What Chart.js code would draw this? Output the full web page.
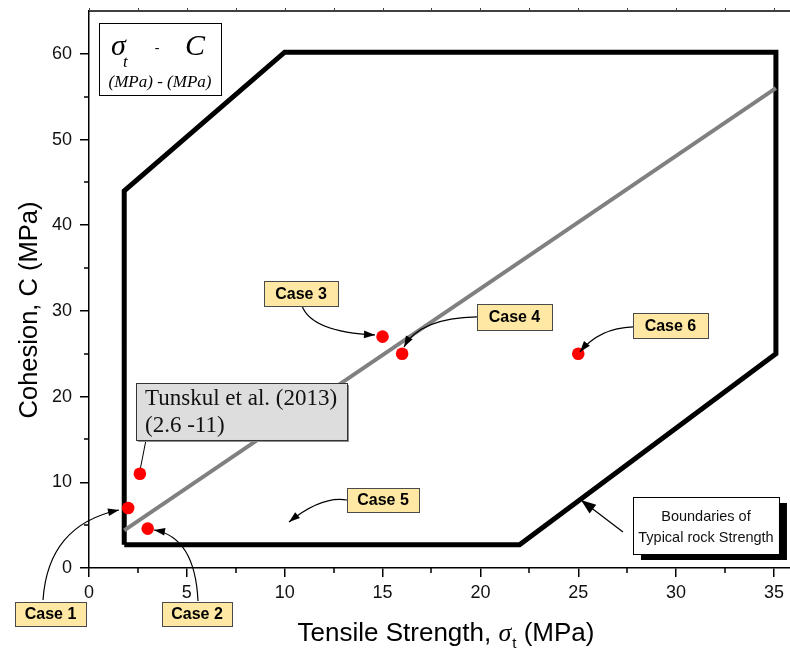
<!DOCTYPE html>
<html>
<head>
<meta charset="utf-8">
<script src="https://cdn.jsdelivr.net/npm/chart.js@4.4.1/dist/chart.umd.min.js"></script>
<style>
  html, body { margin: 0; padding: 0; background: #fff; overflow: hidden; }
  #wrap { width: 790px; height: 650px; position: relative; }
</style>
</head>
<body>
<div id="wrap"><canvas id="c" width="790" height="650"></canvas></div>
<script>
// ---- values ----
const xTicks = [0, 5, 10, 15, 20, 25, 30, 35];
const yTicks = [0, 10, 20, 30, 40, 50, 60];
const xMinor = [2.5, 7.5, 12.5, 17.5, 22.5, 27.5, 32.5];
const yMinor = [5, 15, 25, 35, 45, 55];

// boundary of typical rock strength (tensile strength, cohesion)
const boundaryX = [1.8, 1.8, 10, 35.1, 35.1, 22, 1.8];
const boundaryY = [2.7, 44, 60.2, 60.2, 25, 2.7, 2.7];

// fitted trend line
const trendX = [1.8, 35.1];
const trendY = [4.4, 56];

// measured cases (Case 1, Tunskul et al., Case 2, Case 3, Case 4, Case 6)
const pointX = [2, 2.6, 3, 15, 16, 25];
const pointY = [7, 11, 4.6, 27, 25, 25];

// ---- annotation layout (data units) ----
const caseBoxes = [
  { text: 'Case 1', x: -1.967, y: -5.37, w: 71, h: 24 },
  { text: 'Case 2', x: 5.518,  y: -5.37, w: 70, h: 24 },
  { text: 'Case 3', x: 10.832, y: 32.04, w: 74, h: 25 },
  { text: 'Case 4', x: 21.741, y: 29.30, w: 75, h: 26 },
  { text: 'Case 5', x: 15.022, y: 7.94,  w: 72, h: 24 },
  { text: 'Case 6', x: 29.712, y: 28.31, w: 75, h: 25 }
];
const caseArrows = [
  { from: [-2.350, -3.735], ctrl: [-2.095, 5.019], to: [1.533, 6.770] },
  { from: [5.570, -3.852],  ctrl: [5.416, 3.619],  to: [3.321, 4.436] },
  { from: [10.883, 30.582], ctrl: [11.394, 27.547], to: [14.613, 27.197] },
  { from: [19.825, 29.298], ctrl: [16.913, 29.18], to: [16.095, 25.797] },
  { from: [13.183, 7.937],  ctrl: [11.905, 8.463], to: [10.219, 5.369] },
  { from: [27.796, 28.131], ctrl: [26.083, 28.0],  to: [25.088, 25.213] }
];

const sansFont = '"Liberation Sans", Arial, Helvetica, sans-serif';
const serifFont = '"Liberation Serif", "Times New Roman", Times, serif';

function drawArrowHead(ctx, fx, fy, tx, ty, len, half) {
  const a = Math.atan2(ty - fy, tx - fx);
  ctx.beginPath();
  ctx.moveTo(tx, ty);
  ctx.lineTo(tx - len * Math.cos(a) + half * Math.sin(a), ty - len * Math.sin(a) - half * Math.cos(a));
  ctx.lineTo(tx - len * Math.cos(a) - half * Math.sin(a), ty - len * Math.sin(a) + half * Math.cos(a));
  ctx.closePath();
  ctx.fill();
}

const decor = {
  id: 'decor',
  afterDraw(chart) {
    const ctx = chart.ctx;
    const xs = chart.scales.x, ys = chart.scales.y;
    const X = v => xs.getPixelForValue(v);
    const Y = v => ys.getPixelForValue(v);
    const a = chart.chartArea;
    ctx.save();

    // minor ticks
    ctx.strokeStyle = '#000';
    ctx.lineWidth = 1.5;
    ctx.beginPath();
    xMinor.forEach(v => { const p = Math.round(X(v)); ctx.moveTo(p, a.bottom); ctx.lineTo(p, a.bottom + 5); });
    yMinor.forEach(v => { const p = Math.round(Y(v)); ctx.moveTo(a.left - 5, p); ctx.lineTo(a.left, p); });
    ctx.stroke();

    // top axis with small outward ticks
    ctx.beginPath();
    ctx.moveTo(a.left, a.top); ctx.lineTo(a.right, a.top);
    ctx.stroke();
    ctx.lineWidth = 1;
    ctx.strokeStyle = '#444';
    ctx.beginPath();
    for (let v = 0; v <= 35; v += 2.5) {
      const p = Math.round(X(v)) + 0.5;
      ctx.moveTo(p, a.top); ctx.lineTo(p, a.top - 3);
    }
    ctx.stroke();

    // formula box
    const fx0 = X(0.511), fy0 = Y(63.62), fx1 = X(6.745), fy1 = Y(55.21);
    ctx.fillStyle = '#fff';
    ctx.fillRect(fx0, fy0, fx1 - fx0, fy1 - fy0);
    ctx.strokeStyle = '#000'; ctx.lineWidth = 1;
    ctx.strokeRect(Math.round(fx0) + 0.5, Math.round(fy0) + 0.5, Math.round(fx1 - fx0), Math.round(fy1 - fy0));
    ctx.fillStyle = '#000';
    ctx.textBaseline = 'alphabetic';
    ctx.textAlign = 'left';
    ctx.font = 'italic 30px ' + serifFont;
    ctx.fillText('\u03C3', fx0 + 12, fy0 + 32);
    ctx.font = 'italic 17px ' + serifFont;
    ctx.fillText('t', fx0 + 24, fy0 + 44);
    ctx.font = '14px ' + serifFont;
    ctx.textAlign = 'center';
    ctx.fillText('-', fx0 + 58, fy0 + 29);
    ctx.font = 'italic 30px ' + serifFont;
    ctx.textAlign = 'left';
    ctx.fillText('C', fx0 + 86, fy0 + 32);
    ctx.font = 'italic 17px ' + serifFont;
    ctx.textAlign = 'center';
    ctx.fillText('(MPa) - (MPa)', (fx0 + fx1) / 2, fy0 + 64);

    // Tunskul et al. callout
    const tx0 = X(2.402), ty0 = Y(21.594), tx1 = X(13.183), ty1 = Y(14.941);
    ctx.strokeStyle = '#000'; ctx.lineWidth = 1;
    ctx.beginPath();
    ctx.moveTo(X(2.912), Y(14.941)); ctx.lineTo(X(2.631), Y(11.673));
    ctx.stroke();
    ctx.fillStyle = '#8a8a8a';
    ctx.fillRect(tx0 + 2, ty0 + 2, tx1 - tx0, ty1 - ty0);
    ctx.fillStyle = '#dcdddc';
    ctx.fillRect(tx0, ty0, tx1 - tx0, ty1 - ty0);
    ctx.strokeStyle = '#333';
    ctx.strokeRect(Math.round(tx0) + 0.5, Math.round(ty0) + 0.5, Math.round(tx1 - tx0), Math.round(ty1 - ty0));
    ctx.fillStyle = '#111';
    ctx.textAlign = 'left';
    ctx.font = '23px ' + serifFont;
    ctx.fillText('Tunskul et al. (2013)', tx0 + 9, ty0 + 22);
    ctx.fillText('(2.6 -11)', tx0 + 9, ty0 + 49);

    // case arrows
    ctx.strokeStyle = '#000'; ctx.fillStyle = '#000'; ctx.lineWidth = 1.2;
    caseArrows.forEach(ar => {
      const sx = X(ar.from[0]), sy = Y(ar.from[1]);
      const cx = X(ar.ctrl[0]), cy = Y(ar.ctrl[1]);
      const ex = X(ar.to[0]), ey = Y(ar.to[1]);
      ctx.beginPath();
      ctx.moveTo(sx, sy);
      ctx.quadraticCurveTo(cx, cy, ex, ey);
      ctx.stroke();
      drawArrowHead(ctx, cx, cy, ex, ey, 11, 3.8);
    });

    // case labels
    caseBoxes.forEach(b => {
      const cx = X(b.x), cy = Y(b.y);
      const l = Math.round(cx - b.w / 2), t = Math.round(cy - b.h / 2);
      ctx.fillStyle = '#fee8a3';
      ctx.fillRect(l, t, b.w, b.h);
      ctx.strokeStyle = '#4a4a4a'; ctx.lineWidth = 1;
      ctx.strokeRect(l + 0.5, t + 0.5, b.w, b.h);
      ctx.fillStyle = '#000';
      ctx.font = 'bold 16px ' + sansFont;
      ctx.textAlign = 'center';
      ctx.textBaseline = 'middle';
      ctx.fillText(b.text, cx, cy + 1);
    });
    ctx.textBaseline = 'alphabetic';

    // boundaries callout
    const bx0 = X(27.796), by0 = Y(8.288), bx1 = X(35.256), by1 = Y(1.634);
    ctx.strokeStyle = '#000'; ctx.lineWidth = 1.3; ctx.fillStyle = '#000';
    ctx.beginPath();
    ctx.moveTo(X(27.285), Y(4.202)); ctx.lineTo(X(25.139), Y(7.937));
    ctx.stroke();
    drawArrowHead(ctx, X(27.285), Y(4.202), X(25.139), Y(7.937), 15, 5.5);
    ctx.fillRect(bx0 + 8, by0 + 6, bx1 - bx0, by1 - by0);
    ctx.fillStyle = '#fff';
    ctx.fillRect(bx0, by0, bx1 - bx0, by1 - by0);
    ctx.lineWidth = 1;
    ctx.strokeRect(Math.round(bx0) + 0.5, Math.round(by0) + 0.5, Math.round(bx1 - bx0), Math.round(by1 - by0));
    ctx.fillStyle = '#111';
    ctx.font = '14.5px ' + sansFont;
    ctx.textAlign = 'center';
    ctx.fillText('Boundaries of', (bx0 + bx1) / 2, by0 + 24);
    ctx.fillText('Typical rock Strength', (bx0 + bx1) / 2, by0 + 45);

    // axis titles
    ctx.fillStyle = '#000';
    ctx.save();
    ctx.translate(37, 310);
    ctx.rotate(-Math.PI / 2);
    ctx.font = '25.5px ' + sansFont;
    ctx.textAlign = 'center';
    ctx.fillText('Cohesion, C (MPa)', 0, 0);
    ctx.restore();

    const p1 = 'Tensile Strength, ', p3 = ' (MPa)';
    ctx.textAlign = 'left';
    ctx.font = '26px ' + sansFont;
    const w1 = ctx.measureText(p1).width, w3 = ctx.measureText(p3).width;
    ctx.font = 'italic 26px ' + serifFont;
    const w2 = ctx.measureText('\u03C3').width;
    ctx.font = '15px ' + sansFont;
    const wt = ctx.measureText('t').width;
    const total = w1 + w2 + wt + 1 + w3;
    let px = 446 - total / 2;
    const base = 641;
    ctx.font = '26px ' + sansFont;
    ctx.fillText(p1, px, base); px += w1;
    ctx.font = 'italic 26px ' + serifFont;
    ctx.fillText('\u03C3', px, base); px += w2;
    ctx.font = '15px ' + sansFont;
    ctx.fillText('t', px + 1, base + 7); px += wt + 1;
    ctx.font = '26px ' + sansFont;
    ctx.fillText(p3, px, base);

    ctx.restore();
  }
};

new Chart(document.getElementById('c'), {
  type: 'scatter',
  data: {
    datasets: [
      {
        label: 'Cases',
        data: pointX.map((x, i) => ({ x, y: pointY[i] })),
        pointRadius: 6.3,
        pointBackgroundColor: '#ff0000',
        pointBorderWidth: 0,
        showLine: false,
        order: 0
      },
      {
        label: 'Trend',
        data: trendX.map((x, i) => ({ x, y: trendY[i] })),
        showLine: true,
        borderColor: '#808080',
        borderWidth: 4,
        pointRadius: 0,
        fill: false,
        order: 1
      },
      {
        label: 'Boundary',
        data: boundaryX.map((x, i) => ({ x, y: boundaryY[i] })),
        showLine: true,
        borderColor: '#000',
        borderWidth: 5,
        borderJoinStyle: 'miter',
        pointRadius: 0,
        fill: false,
        clip: false,
        order: 2
      }
    ]
  },
  options: {
    responsive: false,
    devicePixelRatio: 1,
    animation: false,
    layout: { autoPadding: false, padding: { top: 11, right: 0, bottom: 0, left: 0 } },
    plugins: { legend: { display: false }, tooltip: { enabled: false } },
    scales: {
      x: {
        type: 'linear',
        min: 0,
        max: 35.82,
        afterBuildTicks: s => { s.ticks = xTicks.map(v => ({ value: v })); },
        afterFit: s => { s.height = 82; s.paddingLeft = 0; s.paddingRight = 0; },
        grid: { drawOnChartArea: false, tickLength: 9, color: '#000', lineWidth: 1.5 },
        border: { display: true, color: '#000', width: 1.5 },
        ticks: { font: { family: sansFont, size: 18 }, color: '#111', padding: 5, maxRotation: 0, autoSkip: false }
      },
      y: {
        type: 'linear',
        min: 0,
        max: 65,
        afterBuildTicks: s => { s.ticks = yTicks.map(v => ({ value: v })); },
        afterFit: s => { s.width = 89; s.paddingTop = 0; s.paddingBottom = 0; },
        grid: { drawOnChartArea: false, tickLength: 9, color: '#000', lineWidth: 1.5 },
        border: { display: true, color: '#000', width: 1.5 },
        ticks: { font: { family: sansFont, size: 18 }, color: '#111', padding: 8, autoSkip: false }
      }
    }
  },
  plugins: [decor]
});
</script>
</body>
</html>
